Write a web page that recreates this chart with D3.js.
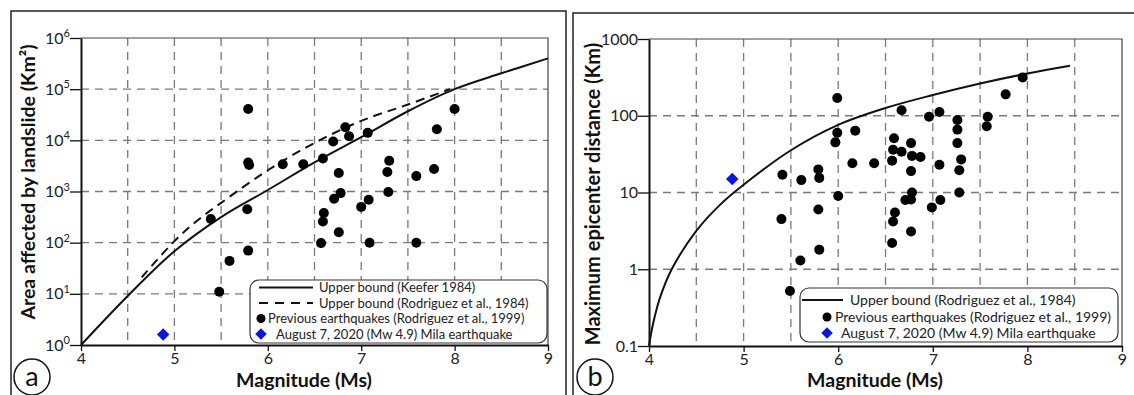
<!DOCTYPE html>
<html>
<head>
<meta charset="utf-8">
<script src="https://cdn.jsdelivr.net/npm/d3@7"></script>
<style>
  body { margin: 0; background: #fff; }
  svg { display: block; font-family: Lato, "Open Sans", sans-serif; }
</style>
</head>
<body>
<svg id="chart" width="1134" height="395"></svg>
<script>
// ---- panel a : area affected by landslides ----
var areaQuakeM = [5.39, 5.48, 5.59, 5.78, 5.79, 5.79, 5.79, 5.80, 6.16, 6.38, 6.59, 6.70, 6.83, 6.87, 7.07, 6.76, 7.30,
                  7.28, 7.59, 7.78, 7.81, 8.00, 6.78, 6.71, 7.29, 7.08, 7.00, 6.60, 6.59, 6.76, 6.57, 7.09, 7.59];
var areaQuakeA = [290, 11, 44, 450, 70, 41000, 3700, 3300, 3400, 3400, 4400, 9500, 18000, 12000, 14000, 2300, 4000,
                  2400, 2000, 2750, 16500, 41000, 930, 720, 980, 690, 500, 380, 260, 160, 98, 100, 100];
var keeferM = [4, 4.5, 5, 5.5, 6, 6.5, 7, 7.5, 8, 8.5, 9];
var keeferA = [1, 9.1, 68, 316, 1070, 3700, 11500, 37000, 100000, 204000, 400000];
var rodAreaM = [4.65, 5, 5.25, 5.5, 6, 6.5, 7, 7.5, 7.95];
var rodAreaA = [21, 107, 275, 600, 2600, 8900, 24000, 50000, 100000];

// ---- panel b : maximum epicentral distance ----
var distQuakeM = [5.99, 5.99, 5.97, 6.18, 6.15, 5.41, 5.61, 5.79, 5.80, 6.00, 6.38, 6.57, 6.58, 6.59, 6.67, 6.67,
                  6.77, 6.78, 6.77, 6.87, 6.96, 7.07, 7.07, 7.26, 7.26, 7.26, 7.30, 7.28, 7.28, 7.58, 7.57, 7.77,
                  7.95, 6.78, 6.71, 6.77, 7.08, 6.99, 6.60, 6.58, 6.77, 6.57, 5.40, 5.79, 5.80, 5.60, 5.49];
var distQuakeD = [170, 60, 45, 64, 24, 17, 14.5, 20, 15.5, 9, 24, 26, 36, 51, 34, 118,
                  44, 30, 19, 29, 97, 112, 23, 88, 66, 44, 27, 19.5, 10, 97, 73, 190,
                  316, 10, 8, 8.1, 8, 6.4, 5.5, 4.2, 3.1, 2.2, 4.5, 6, 1.8, 1.3, 0.52];
var rodDistM = [4, 4.02, 4.06, 4.12, 4.24, 4.5, 4.75, 5, 5.5, 6, 6.5, 7, 7.5, 8, 8.45];
var rodDistD = [0.1, 0.141, 0.24, 0.44, 1, 3.16, 6.9, 12.6, 35.5, 76, 126, 186, 263, 355, 447];

// ---- Mila earthquake (Aug 7, 2020) ----
var milaM = 4.88, milaArea = 1.6, milaDist = 15;

// ---- ticks ----
var magTicks = [4, 5, 6, 7, 8, 9];
var gridMags = [4.5, 5, 5.5, 6, 6.5, 7, 7.5, 8, 8.5];
var areaTicks = [1, 10, 100, 1000, 10000, 100000, 1000000];
var areaExp = ["0", "1", "2", "3", "4", "5", "6"];
var distTicks = [0.1, 1, 10, 100, 1000];
var distLabels = ["0.1", "1", "10", "100", "1000"];

var svg = d3.select("#chart");
var smooth = d3.curveCatmullRom.alpha(0.5);

// outer frames
svg.append("rect").attr("x", 11).attr("y", 11).attr("width", 555).attr("height", 400)
    .attr("fill", "none").attr("stroke", "#222").attr("stroke-width", 1.5);
svg.append("rect").attr("x", 573).attr("y", 13).attr("width", 570).attr("height", 400)
    .attr("fill", "none").attr("stroke", "#222").attr("stroke-width", 1.5);

function drawPanel(p) {
    var x = d3.scaleLinear().domain([4, 9]).range([p.left, p.right]);
    var y = d3.scaleLog().domain(p.yDomain).range([p.bottom, p.top]);
    var g = svg.append("g");

    // dashed grid
    g.selectAll(".vgrid").data(gridMags).enter().append("line")
        .attr("x1", function(d) { return x(d); }).attr("x2", function(d) { return x(d); })
        .attr("y1", p.top).attr("y2", p.bottom)
        .attr("stroke", "#7a7a7a").attr("stroke-width", 1.3).attr("stroke-dasharray", "8,6");
    g.selectAll(".hgrid").data(p.gridY).enter().append("line")
        .attr("x1", p.left).attr("x2", p.right)
        .attr("y1", function(d) { return y(d); }).attr("y2", function(d) { return y(d); })
        .attr("stroke", "#7a7a7a").attr("stroke-width", 1.3).attr("stroke-dasharray", "8,6");

    // thin top / right border
    g.append("path")
        .attr("d", "M" + p.left + "," + p.top + "H" + p.right + "V" + p.bottom)
        .attr("fill", "none").attr("stroke", "#444").attr("stroke-width", 1.2);

    // axes
    var xa = g.append("g").attr("transform", "translate(0," + p.bottom + ")")
        .call(d3.axisBottom(x).tickValues(magTicks).tickSize(6).tickSizeOuter(0).tickFormat(d3.format("d")));
    var ya = g.append("g").attr("transform", "translate(" + p.left + ",0)")
        .call(d3.axisLeft(y).tickValues(p.yTicks).tickSize(11).tickSizeOuter(0));
    [xa, ya].forEach(function(a) {
        a.select(".domain").attr("stroke", "#111").attr("stroke-width", 2);
        a.selectAll(".tick line").attr("stroke", "#111").attr("stroke-width", 1.3);
        a.selectAll(".tick text").attr("font-size", 16).attr("fill", "#222")
            .attr("font-family", "Lato, 'Open Sans', sans-serif");
    });
    xa.selectAll(".tick text").attr("y", 8);
    ya.selectAll(".tick text").attr("x", -11).attr("dy", "0.32em");
    ya.selectAll(".tick text").each(function(d, i) { p.label(d3.select(this), i); });

    return {x: x, y: y, g: g};
}

// ---- panel a ----
var a = drawPanel({
    left: 81, right: 548, top: 38, bottom: 345,
    yDomain: [1, 1000000], yTicks: areaTicks, gridY: [10, 100, 1000, 10000, 100000],
    label: function(t, i) {
        t.text(null);
        t.append("tspan").text("10");
        t.append("tspan").attr("font-size", 11).attr("dy", "-0.6em").text(areaExp[i]);
    }
});

a.g.append("path").datum(d3.range(keeferM.length))
    .attr("fill", "none").attr("stroke", "#111").attr("stroke-width", 2)
    .attr("d", d3.line().curve(smooth)
        .x(function(i) { return a.x(keeferM[i]); }).y(function(i) { return a.y(keeferA[i]); }));
a.g.append("path").datum(d3.range(rodAreaM.length))
    .attr("fill", "none").attr("stroke", "#111").attr("stroke-width", 2).attr("stroke-dasharray", "9,6")
    .attr("d", d3.line().curve(smooth)
        .x(function(i) { return a.x(rodAreaM[i]); }).y(function(i) { return a.y(rodAreaA[i]); }));

a.g.selectAll(".quake").data(d3.range(areaQuakeM.length)).enter().append("circle")
    .attr("cx", function(i) { return a.x(areaQuakeM[i]); })
    .attr("cy", function(i) { return a.y(areaQuakeA[i]); })
    .attr("r", 5).attr("fill", "#000");
a.g.append("path").attr("d", d3.symbol(d3.symbolDiamond2, 100)())
    .attr("transform", "translate(" + a.x(milaM) + "," + a.y(milaArea) + ")")
    .attr("fill", "#0a14e6");

// legend a
var la = svg.append("g").attr("font-size", 13).attr("fill", "#222");
la.append("rect").attr("x", 250).attr("y", 280).attr("width", 297).attr("height", 63).attr("rx", 9)
    .attr("fill", "#fff").attr("stroke", "#333").attr("stroke-width", 1.2);
var laRows = [287.5, 303, 318.5, 334];
la.append("line").attr("x1", 259).attr("x2", 313).attr("y1", laRows[0]).attr("y2", laRows[0])
    .attr("stroke", "#111").attr("stroke-width", 2);
la.append("line").attr("x1", 259).attr("x2", 313).attr("y1", laRows[1]).attr("y2", laRows[1])
    .attr("stroke", "#111").attr("stroke-width", 2).attr("stroke-dasharray", "9,7");
la.append("circle").attr("cx", 261).attr("cy", laRows[2]).attr("r", 4.5).attr("fill", "#000");
la.append("path").attr("d", d3.symbol(d3.symbolDiamond2, 85)())
    .attr("transform", "translate(261," + laRows[3] + ")").attr("fill", "#0a14e6");
la.append("text").attr("x", 319).attr("y", laRows[0]).attr("dy", "0.35em").text("Upper bound (Keefer 1984)");
la.append("text").attr("x", 319).attr("y", laRows[1]).attr("dy", "0.35em").text("Upper bound (Rodriguez et al., 1984)");
la.append("text").attr("x", 268).attr("y", laRows[2]).attr("dy", "0.35em").text("Previous earthquakes (Rodriguez et al., 1999)");
la.append("text").attr("x", 276).attr("y", laRows[3]).attr("dy", "0.35em").text("August 7, 2020 (Mw 4.9) Mila earthquake");

// ---- panel b ----
var b = drawPanel({
    left: 649, right: 1122, top: 39, bottom: 346,
    yDomain: [0.1, 1000], yTicks: distTicks, gridY: [1, 10, 100],
    label: function(t, i) { t.text(distLabels[i]); }
});

b.g.append("path").datum(d3.range(rodDistM.length))
    .attr("fill", "none").attr("stroke", "#111").attr("stroke-width", 2)
    .attr("d", d3.line().curve(smooth)
        .x(function(i) { return b.x(rodDistM[i]); }).y(function(i) { return b.y(rodDistD[i]); }));
b.g.selectAll(".quake").data(d3.range(distQuakeM.length)).enter().append("circle")
    .attr("cx", function(i) { return b.x(distQuakeM[i]); })
    .attr("cy", function(i) { return b.y(distQuakeD[i]); })
    .attr("r", 5).attr("fill", "#000");
b.g.append("path").attr("d", d3.symbol(d3.symbolDiamond2, 100)())
    .attr("transform", "translate(" + b.x(milaM) + "," + b.y(milaDist) + ")")
    .attr("fill", "#0a14e6");

// legend b
var lb = svg.append("g").attr("font-size", 14).attr("fill", "#222");
lb.append("rect").attr("x", 800).attr("y", 288).attr("width", 318).attr("height", 54).attr("rx", 9)
    .attr("fill", "#fff").attr("stroke", "#333").attr("stroke-width", 1.2);
lb.append("line").attr("x1", 802).attr("x2", 843).attr("y1", 300).attr("y2", 300)
    .attr("stroke", "#111").attr("stroke-width", 2);
lb.append("circle").attr("cx", 827).attr("cy", 317).attr("r", 4.5).attr("fill", "#000");
lb.append("path").attr("d", d3.symbol(d3.symbolDiamond2, 85)())
    .attr("transform", "translate(827,333)").attr("fill", "#0a14e6");
lb.append("text").attr("x", 850).attr("y", 300).attr("dy", "0.35em").text("Upper bound (Rodriguez et al., 1984)");
lb.append("text").attr("x", 835).attr("y", 317).attr("dy", "0.35em").text("Previous earthquakes (Rodriguez et al., 1999)");
lb.append("text").attr("x", 841).attr("y", 333).attr("dy", "0.35em").text("August 7, 2020 (Mw 4.9) Mila earthquake");

// ---- axis titles ----
var titles = svg.append("g").attr("font-weight", "bold").attr("font-size", 19.5).attr("fill", "#111")
    .attr("text-anchor", "middle");
titles.append("text").attr("x", 304).attr("y", 380).attr("dy", "0.35em").text("Magnitude (Ms)");
titles.append("text").attr("x", 875).attr("y", 380).attr("dy", "0.35em").text("Magnitude (Ms)");
titles.append("text").attr("transform", "translate(28,182) rotate(-90)").attr("dy", "0.35em")
    .attr("font-size", 19.5).text("Area affected by landslide (Km\u00b2)");
titles.append("text").attr("transform", "translate(593,194) rotate(-90)").attr("dy", "0.35em")
    .attr("font-size", 20).text("Maximum epicenter distance (Km)");

// ---- panel letters ----
[["a", 32, 377], ["b", 595, 377]].forEach(function(d) {
    svg.append("circle").attr("cx", d[1]).attr("cy", d[2]).attr("r", 18)
        .attr("fill", "#fff").attr("stroke", "#111").attr("stroke-width", 1.5);
    svg.append("text").attr("x", d[1]).attr("y", d[2]).attr("dy", "0.32em").attr("text-anchor", "middle")
        .attr("font-size", 27).attr("fill", "#111").text(d[0]);
});
</script>
</body>
</html>
